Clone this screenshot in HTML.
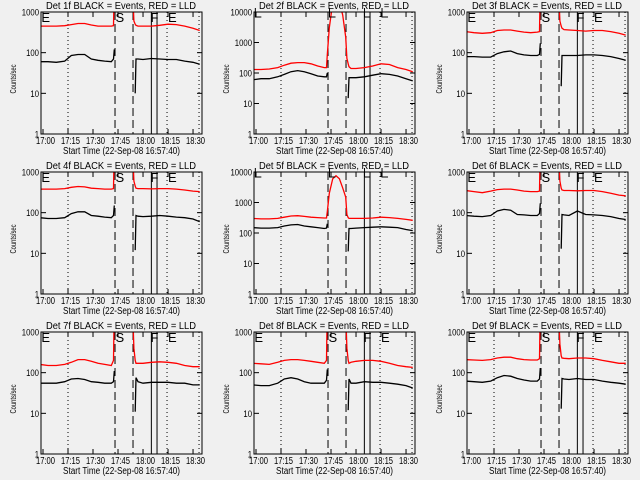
<!DOCTYPE html>
<html><head><meta charset="utf-8">
<style>
html,body{margin:0;padding:0;background:#f0f0f0;}
svg{display:block;}
text{font-family:"Liberation Sans",sans-serif;fill:#000;}
</style></head>
<body>
<svg id="chart" width="640" height="480" xmlns="http://www.w3.org/2000/svg"></svg>
<script>
// time samples in minutes after 17:00
const times = [-2,3,8,13,17,21,25,29,33,37,41,42.3,42.8,44,46,48,50,52,53.8,54.5,55.3,55.8,57,60,65,70,75,80,85,90,94];
const N = null;
const detNames = ["1f","2f","3f","4f","5f","6f","7f","8f","9f"];
const yMaxes = [1000,10000,1000,1000,10000,1000,1000,1000,1000];
const red1 = [450,450,450,460,490,520,520,480,450,450,450,460,5000,5000,5000,5000,5000,5000,3000,600,500,470,450,450,450,470,500,490,450,400,350];
const black1 = [60,60,58,62,85,90,90,70,65,62,60,70,120,N,N,N,N,N,N,N,10,70,70,68,72,70,68,68,62,58,52];
const red2 = [130,130,135,150,180,210,220,220,200,170,150,150,400,3000,20000,20000,20000,8000,1500,300,200,160,140,140,150,170,200,190,150,130,110];
const black2 = [60,65,65,75,90,110,120,110,95,80,75,75,100,N,N,N,N,N,N,N,15,70,70,70,75,85,95,90,80,65,55];
const red3 = [330,310,300,310,350,360,360,340,320,310,320,330,5000,5000,5000,5000,5000,5000,3000,600,450,400,370,360,350,340,350,350,330,300,270];
const black3 = [80,80,78,78,95,105,110,95,88,85,85,90,170,N,N,N,N,N,N,N,15,85,85,85,85,88,88,85,80,72,65];
const red4 = [380,380,380,390,420,440,430,400,390,380,380,390,5000,5000,5000,5000,5000,5000,3000,600,450,400,390,390,385,390,390,380,360,340,330];
const black4 = [75,72,72,75,95,105,105,85,82,78,75,85,150,N,N,N,N,N,N,N,12,85,82,80,82,85,82,78,75,70,60];
const red5 = [300,290,290,300,330,360,370,350,330,320,310,310,500,2000,6000,7500,6000,3000,1500,400,320,300,300,300,300,310,330,320,300,280,260];
const black5 = [150,145,145,150,170,185,190,170,160,150,140,145,200,N,N,N,N,N,N,N,25,140,140,145,150,155,160,155,150,130,120];
const red6 = [350,330,310,340,370,380,380,360,340,330,330,340,5000,5000,5000,5000,5000,5000,3000,600,400,360,350,350,345,350,350,330,300,270,260];
const black6 = [85,82,80,85,110,120,115,90,88,85,85,95,170,N,N,N,N,N,N,N,13,90,88,85,110,90,88,85,80,72,68];
const red7 = [160,150,150,160,180,210,210,190,170,160,150,200,5000,5000,5000,5000,5000,5000,3000,400,200,170,170,170,180,185,180,170,150,140,140];
const black7 = [55,55,55,60,70,72,68,60,58,55,55,60,110,N,N,N,N,N,N,N,11,75,60,55,58,58,58,55,55,50,50];
const red8 = [170,165,160,180,200,210,210,200,190,180,170,200,5000,5000,5000,5000,5000,5000,3000,400,200,170,180,190,200,200,190,170,150,140,135];
const black8 = [50,48,48,55,70,75,70,60,55,55,55,65,120,N,N,N,N,N,N,N,12,70,55,55,60,58,58,55,52,48,42];
const red9 = [210,205,200,210,230,240,240,220,210,205,205,220,5000,5000,5000,5000,5000,5000,3000,500,260,230,225,220,230,230,220,200,185,170,170];
const black9 = [62,60,58,62,75,85,82,72,66,62,62,70,130,N,N,N,N,N,N,N,13,72,70,68,72,68,68,62,58,55,52];
const redSeries = [red1,red2,red3,red4,red5,red6,red7,red8,red9];
const blackSeries = [black1,black2,black3,black4,black5,black6,black7,black8,black9];
const xTickMinutes = [0,15,30,45,60,75,90];
const xTickLabels = ["17:00","17:15","17:30","17:45","18:00","18:15","18:30"];
const dottedTimes = [15,74.4,93.6];
const dashedTimes = [43.2,54];
const solidTimes = [65,68.4];
const markers = [{t:-1,l:"E"},{t:43.5,l:"S"},{t:64.5,l:"F"},{t:75,l:"E"}];

const svg = document.getElementById('chart');
const NS = 'http://www.w3.org/2000/svg';
function mk(tag, attrs, parent){
  const e = document.createElementNS(NS, tag);
  for (const k in attrs) e.setAttribute(k, attrs[k]);
  (parent||svg).appendChild(e);
  return e;
}

for (let p = 0; p < 9; p++) {
  const col = p % 3, row = Math.floor(p / 3);
  const L = col * 213 + 41, R = L + 161, T = row * 160 + 12, B = T + 122;
  const ymax = yMaxes[p];
  const xs = t => L + 2 + t * 1.667;
  const ys = v => B - Math.log10(v) / Math.log10(ymax) * (B - T);
  const g = mk('g', {});
  
  

  const cp = mk('clipPath', {id: 'clip' + p}, g);
  mk('rect', {x: L, y: T, width: R - L, height: B - T}, cp);

  const title = mk('text', {x: L + 5, y: T - 3, 'font-size': 10, textLength: 150, lengthAdjust: 'spacingAndGlyphs'}, g);
  title.textContent = 'Det ' + detNames[p] + ' BLACK = Events, RED = LLD';
  
  

  const yl = mk('text', {x: 0, y: 0, 'font-size': 8, 'text-anchor': 'middle', textLength: 29, lengthAdjust: 'spacingAndGlyphs', transform: 'translate(' + (L - 25) + ',' + (T + 67) + ') rotate(-90)'}, g);
  yl.textContent = 'Counts/sec';
  
  

  const xl = mk('text', {x: L + 22, y: B + 20, 'font-size': 10, textLength: 117, lengthAdjust: 'spacingAndGlyphs'}, g);
  xl.textContent = 'Start Time (22-Sep-08 16:57:40)';
  
  

  for (let d = 0; Math.pow(10, d) <= ymax; d++) {
    const v = Math.pow(10, d), y = ys(v);
    mk('line', {x1: L, x2: L + 5, y1: y, y2: y, stroke: '#000'}, g);
    mk('line', {x1: R, x2: R - 5, y1: y, y2: y, stroke: '#000'}, g);
    const s = String(v);
    const tl = mk('text', {x: L - 2 - s.length * 4.3, y: y + 3.5, 'font-size': 9, textLength: s.length * 4.3, lengthAdjust: 'spacingAndGlyphs'}, g);
    tl.textContent = s;
    
    
  }
  xTickMinutes.forEach((m, i) => {
    const x = xs(m);
    mk('line', {x1: x, x2: x, y1: B, y2: B - 5, stroke: '#000'}, g);
    mk('line', {x1: x, x2: x, y1: T, y2: T + 5, stroke: '#000'}, g);
    const tl = mk('text', {x: x - 7, y: B + 10, 'font-size': 10, textLength: 19, lengthAdjust: 'spacingAndGlyphs'}, g);
    tl.textContent = xTickLabels[i];
    
    
  });

  dottedTimes.forEach(t => mk('line', {x1: xs(t), x2: xs(t), y1: T, y2: B, stroke: '#000', 'stroke-dasharray': '1,3'}, g));
  dashedTimes.forEach(t => mk('line', {x1: xs(t), x2: xs(t), y1: T, y2: B, stroke: '#000', 'stroke-dasharray': '8,4'}, g));
  solidTimes.forEach(t => mk('line', {x1: xs(t), x2: xs(t), y1: T, y2: B, stroke: '#000'}, g));

  const cg = mk('g', {'clip-path': 'url(#clip' + p + ')'}, g);
  [[blackSeries[p], '#000', 'events-line'], [redSeries[p], '#ff0000', 'lld-line']].forEach(([arr, color, name]) => {
    let d = '', pen = false;
    arr.forEach((v, i) => {
      if (v === null) { pen = false; return; }
      d += (pen ? 'L' : 'M') + xs(times[i]).toFixed(1) + ',' + ys(v).toFixed(1);
      pen = true;
    });
    const path = mk('path', {d: d, fill: 'none', stroke: color, 'stroke-width': 1.3}, cg);
    
    
  });

  mk('rect', {x: L, y: T, width: R - L, height: B - T, fill: 'none', stroke: '#000'}, g);

  markers.forEach(mm => {
    const x = xs(mm.t);
    if (ymax > 1000) {
      const br = mk('path', {d: 'M' + (x + 1) + ',' + (T - 4) + 'V' + (T + 5) + 'H' + (x + 7), fill: 'none', stroke: '#000'}, g);
      
      
    } else {
      const mt = mk('text', {x: x, y: T + 10, 'font-size': 13}, g);
      mt.textContent = mm.l;
      
      
    }
  });
}
</script>
</body></html>
